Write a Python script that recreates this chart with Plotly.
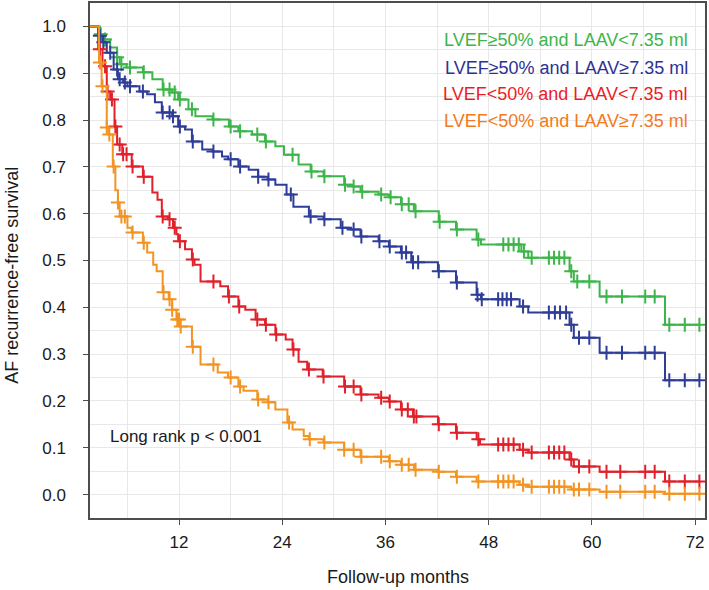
import plotly.graph_objects as go

# ---------------- data ----------------
series_names = [
    "LVEF≥50% and LAAV<7.35 ml",
    "LVEF≥50% and LAAV≥7.35 ml",
    "LVEF<50% and LAAV<7.35 ml",
    "LVEF<50% and LAAV≥7.35 ml",
]
line_colors = ["#3db54a", "#2e3d98", "#e0202a", "#f39322"]
text_colors = ["#3db54a", "#2e3192", "#ed1c24", "#f47920"]

# Kaplan-Meier step knots (months, survival)
green_t = [0, 2.8, 3.1, 4.0, 4.8, 5.1, 5.9, 7.8, 8.9, 10.1, 11.2, 11.9, 13.1, 13.9, 15.9, 17.8, 18.9, 20.5,
           22.0, 23.2, 24.2, 25.9, 27.3, 28.8, 31.2, 32.2, 33.1, 35.2, 36.4, 37.8, 39.3, 42.2, 44.2, 46.6,
           47.1, 51.8, 52.6, 57.4, 57.9, 60.9, 68.5, 72.6]
green_s = [1.0, 0.983, 0.972, 0.955, 0.934, 0.919, 0.912, 0.902, 0.887, 0.865, 0.859, 0.844, 0.823, 0.808,
           0.801, 0.786, 0.776, 0.769, 0.754, 0.744, 0.726, 0.705, 0.690, 0.680, 0.662, 0.658, 0.647, 0.641,
           0.635, 0.620, 0.605, 0.583, 0.566, 0.545, 0.534, 0.519, 0.506, 0.477, 0.455, 0.423, 0.363, 0.363]

blue_t = [0, 2.6, 3.1, 3.6, 4.4, 4.9, 5.5, 6.0, 7.4, 8.3, 9.2, 10.0, 11.2, 11.9, 12.7, 13.5, 14.7, 15.9, 17.0,
          17.7, 18.9, 20.1, 21.2, 22.3, 23.2, 24.5, 25.3, 27.1, 28.8, 30.8, 32.0, 33.1, 35.2, 36.4, 37.8, 39.0,
          42.1, 44.2, 46.6, 47.1, 51.6, 52.6, 57.4, 57.9, 60.9, 68.5, 72.6]
blue_s = [1.0, 0.980, 0.966, 0.944, 0.908, 0.887, 0.880, 0.872, 0.861, 0.855, 0.838, 0.816, 0.808, 0.786,
          0.780, 0.754, 0.737, 0.733, 0.722, 0.716, 0.701, 0.694, 0.679, 0.673, 0.662, 0.641, 0.615, 0.594,
          0.588, 0.570, 0.566, 0.551, 0.541, 0.530, 0.517, 0.496, 0.477, 0.453, 0.427, 0.417, 0.402, 0.389,
          0.363, 0.335, 0.303, 0.244, 0.244]

red_t = [0, 2.6, 3.1, 3.6, 4.0, 4.5, 4.8, 5.4, 6.5, 7.8, 8.9, 9.5, 10.0, 10.7, 11.3, 11.7, 11.9, 12.7, 13.5,
         13.8, 14.5, 16.8, 17.7, 18.9, 19.7, 20.9, 22.0, 23.2, 24.4, 25.2, 25.9, 26.9, 28.7, 31.2, 33.1, 35.2,
         36.4, 37.8, 39.2, 42.1, 44.2, 46.6, 47.0, 51.6, 52.6, 57.4, 57.9, 60.9, 68.5, 72.6]
red_s = [1.0, 0.951, 0.915, 0.861, 0.844, 0.786, 0.748, 0.727, 0.701, 0.679, 0.645, 0.630, 0.594, 0.588,
         0.570, 0.556, 0.541, 0.524, 0.502, 0.491, 0.455, 0.445, 0.423, 0.402, 0.395, 0.374, 0.363, 0.342,
         0.331, 0.310, 0.284, 0.267, 0.252, 0.231, 0.214, 0.207, 0.199, 0.182, 0.167, 0.150, 0.132, 0.118,
         0.107, 0.096, 0.090, 0.075, 0.060, 0.049, 0.028, 0.028]

orange_t = [0, 2.7, 3.0, 3.6, 3.8, 4.3, 4.6, 4.9, 5.1, 6.0, 6.5, 7.8, 8.3, 9.0, 9.4, 10.1, 10.8, 11.2, 11.7,
            12.1, 13.5, 14.5, 16.5, 17.7, 18.9, 19.5, 21.1, 22.3, 23.2, 24.6, 25.2, 26.5, 27.1, 28.8, 31.2,
            33.1, 36.4, 37.8, 39.3, 42.1, 44.2, 46.6, 51.6, 52.6, 57.6, 60.9, 68.5, 72.6]
orange_s = [1.0, 0.923, 0.872, 0.784, 0.769, 0.701, 0.650, 0.624, 0.594, 0.570, 0.560, 0.538, 0.517, 0.491,
            0.477, 0.432, 0.417, 0.395, 0.374, 0.359, 0.316, 0.278, 0.261, 0.250, 0.231, 0.222, 0.203, 0.197,
            0.182, 0.154, 0.139, 0.125, 0.118, 0.111, 0.096, 0.081, 0.071, 0.064, 0.053, 0.049, 0.038, 0.028,
            0.021, 0.017, 0.011, 0.006, 0.002, 0.002]

# censored observations (months, survival)
green_ct = [2.9, 3.4, 4.8, 5.3, 6.3, 7.9, 10.2, 10.9, 11.5, 12.1, 13.5, 16.0, 18.0, 19.1, 21.1, 22.1, 25.2,
            27.4, 28.9, 31.3, 32.3, 33.3, 35.5, 36.6, 37.9, 38.7, 39.5, 42.3, 44.3, 46.8, 49.7, 50.3, 50.9,
            51.5, 52.1, 53.0, 55.0, 55.6, 56.2, 56.8, 57.6, 58.3, 59.7, 61.7, 63.5, 66.2, 67.3, 69.0, 70.8, 72.5]
green_cs = [0.983, 0.972, 0.934, 0.919, 0.912, 0.902, 0.865, 0.865, 0.859, 0.844, 0.823, 0.801, 0.786, 0.776,
            0.769, 0.754, 0.726, 0.690, 0.680, 0.662, 0.658, 0.647, 0.641, 0.635, 0.620, 0.620, 0.605, 0.583,
            0.566, 0.545, 0.534, 0.534, 0.534, 0.534, 0.519, 0.506, 0.506, 0.506, 0.506, 0.506, 0.477, 0.455,
            0.455, 0.423, 0.423, 0.423, 0.423, 0.363, 0.363, 0.363]

blue_ct = [2.8, 3.2, 4.0, 4.8, 5.1, 5.7, 6.3, 7.8, 10.1, 10.9, 11.3, 12.1, 13.6, 16.0, 18.0, 19.1, 21.2, 22.4,
           25.0, 27.3, 28.9, 31.0, 32.3, 33.2, 35.3, 36.5, 37.9, 38.4, 39.2, 39.8, 42.2, 44.3, 46.7, 47.2,
           49.1, 49.6, 50.1, 50.6, 52.0, 55.0, 55.7, 56.3, 57.0, 57.6, 58.5, 59.7, 61.7, 63.5, 66.2, 67.3,
           69.0, 70.8, 72.5]
blue_cs = [0.980, 0.966, 0.944, 0.908, 0.887, 0.880, 0.872, 0.861, 0.816, 0.816, 0.808, 0.786, 0.754, 0.733,
           0.716, 0.701, 0.679, 0.673, 0.641, 0.594, 0.588, 0.570, 0.566, 0.551, 0.541, 0.530, 0.517, 0.517,
           0.496, 0.496, 0.477, 0.453, 0.427, 0.417, 0.417, 0.417, 0.417, 0.417, 0.402, 0.389, 0.389, 0.389,
           0.389, 0.363, 0.335, 0.335, 0.303, 0.303, 0.303, 0.303, 0.244, 0.244, 0.244]

red_ct = [2.8, 3.4, 3.7, 4.2, 4.6, 5.1, 5.5, 5.9, 6.6, 7.9, 10.1, 10.9, 11.5, 12.1, 13.6, 16.0, 17.8, 19.0,
          21.1, 22.1, 23.3, 25.3, 27.1, 28.8, 31.3, 32.3, 33.2, 35.5, 36.5, 37.9, 38.6, 39.3, 39.6, 42.2,
          44.3, 46.8, 49.1, 49.7, 50.3, 50.9, 52.0, 53.0, 55.0, 55.6, 56.2, 56.8, 57.6, 58.5, 59.7, 61.7,
          63.3, 66.2, 67.3, 69.0, 70.8, 72.5]
red_cs = [0.951, 0.915, 0.861, 0.844, 0.786, 0.748, 0.727, 0.727, 0.701, 0.679, 0.594, 0.588, 0.570, 0.541,
          0.502, 0.455, 0.423, 0.402, 0.374, 0.363, 0.342, 0.310, 0.267, 0.252, 0.231, 0.231, 0.214, 0.207,
          0.199, 0.182, 0.182, 0.167, 0.167, 0.150, 0.132, 0.118, 0.107, 0.107, 0.107, 0.107, 0.096, 0.090,
          0.090, 0.090, 0.090, 0.090, 0.075, 0.060, 0.060, 0.049, 0.049, 0.049, 0.049, 0.028, 0.028, 0.028]

orange_ct = [2.8, 3.1, 3.6, 3.9, 4.4, 4.9, 5.3, 5.7, 6.6, 7.9, 10.2, 10.9, 11.2, 11.8, 12.0, 12.2, 13.6, 16.0,
             18.0, 19.1, 21.2, 22.4, 24.8, 27.2, 28.9, 31.2, 32.3, 33.2, 35.5, 36.5, 37.9, 38.7, 39.5, 42.2,
             44.3, 46.8, 49.1, 49.7, 50.3, 50.9, 52.0, 53.0, 55.0, 55.6, 56.2, 56.8, 57.9, 58.5, 59.7, 61.7,
             63.3, 66.2, 67.3, 69.0, 70.8, 72.5]
orange_cs = [0.923, 0.872, 0.784, 0.769, 0.701, 0.624, 0.594, 0.594, 0.560, 0.538, 0.432, 0.417, 0.395,
             0.374, 0.374, 0.359, 0.316, 0.278, 0.250, 0.231, 0.203, 0.197, 0.154, 0.118, 0.111, 0.096, 0.096,
             0.081, 0.081, 0.071, 0.064, 0.064, 0.053, 0.049, 0.038, 0.028, 0.028, 0.028, 0.028, 0.028, 0.021,
             0.017, 0.017, 0.017, 0.017, 0.017, 0.011, 0.011, 0.011, 0.006, 0.006, 0.006, 0.006, 0.002, 0.002,
             0.002]

x_ticks = [12, 24, 36, 48, 60, 72]
y_ticks = [0.0, 0.1, 0.2, 0.3, 0.4, 0.5, 0.6, 0.7, 0.8, 0.9, 1.0]
y_ticklabels = ["0.0", "0.1", "0.2", "0.3", "0.4", "0.5", "0.6", "0.7", "0.8", "0.9", "1.0"]
x_title = "Follow-up months"
y_title = "AF recurrence-free survival"
p_text = "Long rank p < 0.001"

# ---------------- figure ----------------
FONT = "Liberation Sans, Arial, sans-serif"
curves = [(green_t, green_s, green_ct, green_cs),
          (blue_t, blue_s, blue_ct, blue_cs),
          (red_t, red_s, red_ct, red_cs),
          (orange_t, orange_s, orange_ct, orange_cs)]

fig = go.Figure()
for (t, s, ct, cs), name, col in zip(curves, series_names, line_colors):
    fig.add_trace(go.Scatter(x=t, y=s, mode="lines", line=dict(shape="hv", color=col, width=2),
                             name=name, showlegend=False, hoverinfo="skip"))
    fig.add_trace(go.Scatter(x=ct, y=cs, mode="markers", name=name + " censored", showlegend=False,
                             marker=dict(symbol="cross-thin", size=10, line=dict(color=col, width=2)),
                             hoverinfo="skip"))

# legend text (right aligned)
legend_y = [0.972, 0.912, 0.855, 0.797]
for name, col, yy in zip(series_names, text_colors, legend_y):
    fig.add_annotation(x=71.4, y=yy, xref="x", yref="y", text=name, showarrow=False,
                       xanchor="right", yanchor="middle", font=dict(family=FONT, size=18, color=col))

fig.add_annotation(x=3.7, y=0.124, xref="x", yref="y", text=p_text, showarrow=False,
                   xanchor="left", yanchor="middle", font=dict(family=FONT, size=17, color="#1a1a1a"))

fig.add_annotation(x=0.5, y=-0.1146, xref="paper", yref="paper", text=x_title, showarrow=False,
                   xanchor="center", yanchor="middle", font=dict(family=FONT, size=18, color="#1a1a1a"))
fig.add_annotation(x=-0.127, y=0.472, xref="paper", yref="paper", text=y_title, showarrow=False,
                   textangle=-90, xanchor="center", yanchor="middle",
                   font=dict(family=FONT, size=18, color="#1a1a1a"))

axis_common = dict(showline=True, mirror=True, linecolor="#4d4d4d", linewidth=1.5,
                   ticks="outside", ticklen=5, tickwidth=1.2, tickcolor="#4d4d4d",
                   showgrid=True, gridcolor="#e8e8e8", gridwidth=1, zeroline=False,
                   automargin=False,
                   tickfont=dict(family=FONT, size=17, color="#1a1a1a"))

fig.update_xaxes(range=[1.65, 73.15], tickvals=x_ticks, ticktext=[str(v) for v in x_ticks],
                 minor=dict(dtick=6, tick0=0, showgrid=True, gridcolor="#e8e8e8", ticks=""),
                 ticklabelstandoff=3, **axis_common)
fig.update_yaxes(range=[-0.05, 1.05], tickvals=y_ticks, ticktext=y_ticklabels,
                 minor=dict(dtick=0.05, tick0=0, showgrid=True, gridcolor="#e8e8e8", ticks=""),
                 ticklabelstandoff=14, **axis_common)

fig.update_layout(width=709, height=590, margin=dict(l=90, r=4, t=3, b=72, autoexpand=False),
                  paper_bgcolor="white", plot_bgcolor="white",
                  font=dict(family=FONT, color="#1a1a1a"))

fig.write_html("out.html", config={"displayModeBar": False},
               post_script="document.body.style.margin='0px';document.body.style.overflow='hidden';")
